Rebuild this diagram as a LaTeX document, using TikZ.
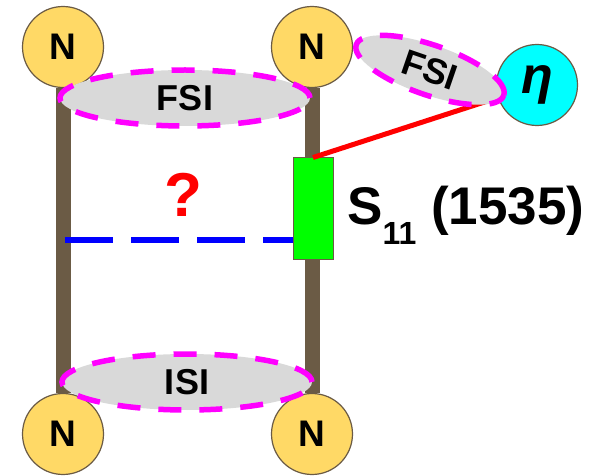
\documentclass[tikz,border=0pt]{standalone}
\usepackage{fontspec}
\setmainfont{Liberation Sans}
\usetikzlibrary{shapes.geometric}

\definecolor{nyellow}{HTML}{FFD966}
\definecolor{rimbrown}{HTML}{6B5B45}
\definecolor{blobgray}{HTML}{D9D9D9}
\definecolor{dashpink}{HTML}{FF00FF}
\definecolor{etacyan}{HTML}{00FFFF}
\definecolor{resgreen}{HTML}{00FF00}
\definecolor{linered}{HTML}{FF0000}
\definecolor{lineblue}{HTML}{0000FF}

\begin{document}
\begin{tikzpicture}[x=1pt, y=-1pt,
    nucleon/.style={circle, draw=rimbrown, line width=1.2pt, fill=nyellow, minimum size=81pt, inner sep=0pt, font=\fontsize{37}{37}\selectfont\bfseries},
    meson/.style={nucleon, fill=etacyan, font=\fontsize{52}{52}\selectfont\bfseries\itshape},
    blob/.style={ellipse, draw=dashpink, fill=blobgray, line width=5.5pt, dash pattern=on 23pt off 18pt, minimum width=250pt, minimum height=56pt, inner sep=0pt, font=\fontsize{36}{36}\selectfont\bfseries},
    leg/.style={draw=rimbrown, line width=15pt},
    resbox/.style={rectangle, draw=rimbrown, line width=1pt, fill=resgreen, minimum width=40pt, minimum height=102pt, inner sep=0pt}]
    \useasboundingbox (0,0) rectangle (606,476);
    % Nodes
    \node (nTL) [nucleon] at (63,47) {N};
    \node (nTR) [nucleon] at (312,47) {N};
    \node (nBL) [nucleon] at (63,434) {N};
    \node (nBR) [nucleon] at (312,434) {N};
    \node (eta) [meson] at (537,85) {η};
    % Legs
    \draw[leg] (nTL) -- (nBL);
    \draw[leg] (nTR) -- (nBR);
    \node (res) [resbox] at (313,209) {};
    \coordinate (qL) at (65,240);
    % Lines
    \draw[linered, line width=5pt] (res.north) -- (eta);
    \draw[lineblue, line width=6pt, dash pattern=on 48pt off 18pt] (qL) -- (res.west |- qL);
    % Interaction blobs
    \node (fsiTop) [blob] at (185,98) {FSI};
    \node (isi) [blob] at (187,382) {ISI};
    \node (fsiEta) [blob, minimum width=156pt, minimum height=50pt, rotate=-19] at (430,70) {FSI};
    % Labels
    \node (qmark) [text=linered, font=\fontsize{62}{62}\selectfont\bfseries] at (183,195) {?};
    \node (resname) [anchor=base west, inner sep=0pt, font=\fontsize{53}{53}\selectfont\bfseries] at (347,225) {S\raisebox{-20pt}{\fontsize{32}{32}\selectfont 11} (1535)};
\end{tikzpicture}
\end{document}
